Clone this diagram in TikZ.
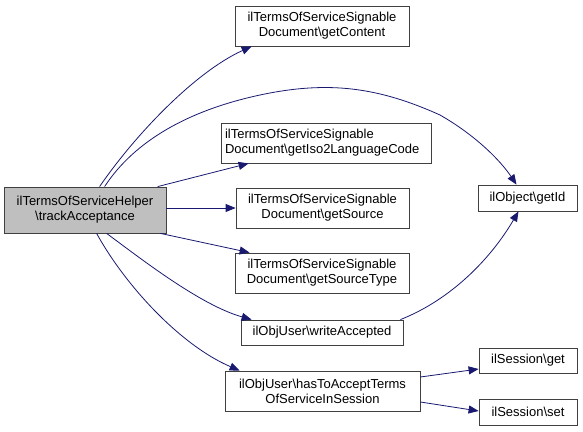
\documentclass[tikz,border=0pt]{standalone}
\usepackage{fontspec}
\setmainfont{Liberation Sans}
\usetikzlibrary{arrows.meta,calc}
\definecolor{edgeblue}{HTML}{191970}
\definecolor{mainfill}{HTML}{BFBFBF}
\begin{document}
\begin{tikzpicture}[x=1pt,y=-1pt,
  box/.style={draw=black!75,line width=0.8pt,fill=white,inner sep=0pt,align=center,
    font=\fontsize{13}{15}\selectfont},
  edge/.style={draw=edgeblue,line width=0.8pt,-{Triangle[length=10pt,width=8pt]}}]
\useasboundingbox (0,0) rectangle (583,431);
\node[box,fill=mainfill,minimum width=162pt,minimum height=46pt] (main) at (85,210) {ilTermsOfServiceHelper\\\textbackslash trackAcceptance};
\node[box,minimum width=174pt,minimum height=40pt] (gc) at (322,26) {ilTermsOfServiceSignable\\Document\textbackslash getContent};
\node[box,align=left,text width=202pt,minimum width=210pt,minimum height=40pt] (gi) at (326,143) {ilTermsOfServiceSignable\\Document\textbackslash getIso2LanguageCode};
\node[box,minimum width=173pt,minimum height=40pt] (gs) at (322.5,208) {ilTermsOfServiceSignable\\Document\textbackslash getSource};
\node[box,minimum width=174pt,minimum height=40pt] (gt) at (322,273) {ilTermsOfServiceSignable\\Document\textbackslash getSourceType};
\node[box,minimum width=162pt,minimum height=25pt] (wa) at (322,332.5) {ilObjUser\textbackslash writeAccepted};
\node[box,minimum width=195pt,minimum height=40pt] (ha) at (322.5,391) {ilObjUser\textbackslash hasToAcceptTerms\\OfServiceInSession};
\node[box,minimum width=99pt,minimum height=26pt] (id) at (527.5,198) {ilObject\textbackslash getId};
\node[box,minimum width=98pt,minimum height=25pt] (sg) at (528,360.5) {ilSession\textbackslash get};
\node[box,minimum width=98pt,minimum height=26pt] (ss) at (528,412) {ilSession\textbackslash set};

\draw[edge] ($(main.north west)+(96,0)$) .. controls (135,135) and (195,72) .. ($(gc.south west)+(17,0)$);
\draw[edge] ($(main.north west)+(101,0)$) .. controls (135,140) and (190,110) .. (260,95)
   .. controls (330,80) and (380,88) .. (440,115)
   .. controls (475,135) and (500,160) .. ($(id.north)+(-11,0)$);
\draw[edge] ($(main.north west)+(154,0)$) -- ($(gi.south west)+(28,0)$);
\draw[edge] (main.east |- gs.west) -- (gs.west);
\draw[edge] ($(main.south east)+(-6,0)$) -- ($(gt.north west)+(15,0)$);
\draw[edge] ($(main.south west)+(103,0)$) .. controls (140,258) and (200,305) .. ($(wa.north west)+(11,0)$);
\draw[edge] ($(main.south west)+(93,0)$) .. controls (125,285) and (180,345) .. ($(ha.north west)+(15,0)$);
\draw[edge] ($(wa.north east)+(-3,0)$) .. controls (450,300) and (490,260) .. ($(id.south)+(-9,0)$);
\draw[edge] ($(ha.east)+(0,-14)$) -- ($(sg.west)+(0,8.5)$);
\draw[edge] ($(ha.east)+(0,11)$) -- ($(ss.west)+(0,-1)$);
\end{tikzpicture}
\end{document}
